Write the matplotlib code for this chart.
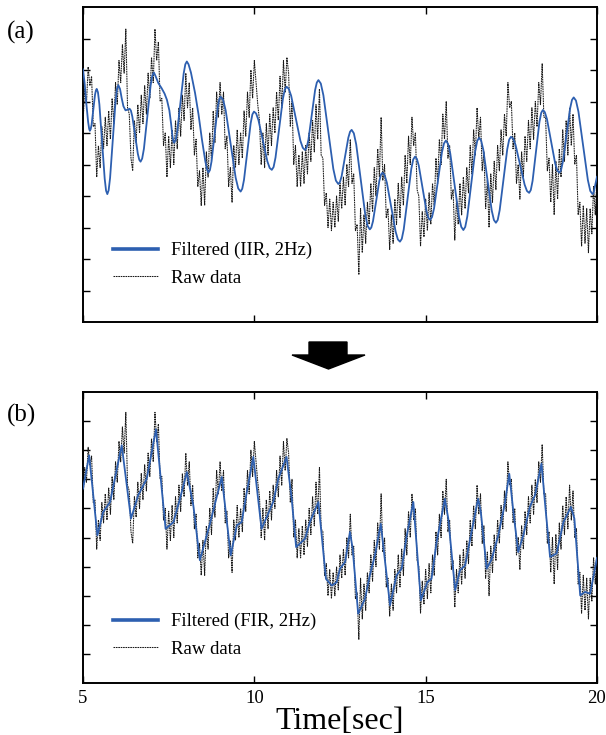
import numpy as np
import matplotlib
matplotlib.use("Agg")
import matplotlib.pyplot as plt
from matplotlib.lines import Line2D
from matplotlib.patches import Polygon

plt.rcParams['font.family'] = ['Liberation Serif', 'DejaVu Serif']

# ---------------- data ----------------
raw_y = [
    6.3, 7.4, 6.9, 8.1, 7.5, 7.8, 6.2, 6.3, 4.6, 5.6, 4.9, 6.2, 5.5, 6.5, 5.6, 6.7, 5.8, 7.1, 6.3, 7.6,
    6.9, 8.3, 7.6, 8.8, 7.9, 9.3, 6.8, 6.6, 5.2, 4.8, 6.4, 5.7, 6.9, 6.0, 7.2, 6.3, 7.5, 6.6, 7.9, 7.1,
    8.4, 7.6, 9.3, 8.3, 8.9, 7.0, 7.1, 5.6, 6.0, 4.6, 5.9, 4.9, 6.1, 5.0, 6.4, 5.5, 6.8, 5.9, 7.2, 6.4,
    7.9, 6.8, 7.6, 6.1, 6.8, 5.3, 5.8, 4.3, 4.8, 3.7, 4.9, 3.7, 5.4, 4.6, 6.0, 5.1, 6.7, 5.7, 7.3, 6.5,
    7.6, 6.6, 7.3, 5.5, 5.9, 4.3, 4.9, 3.8, 5.6, 4.9, 6.1, 5.0, 6.0, 5.2, 6.7, 5.9, 7.3, 6.5, 8.0, 7.1,
    8.3, 7.6, 6.9, 6.4, 5.0, 6.0, 4.9, 6.3, 5.3, 6.6, 5.6, 6.8, 6.0, 7.3, 6.4, 7.8, 6.8, 8.3, 7.3, 8.4,
    7.9, 6.2, 7.0, 5.0, 5.6, 4.3, 5.3, 4.3, 5.4, 4.4, 5.6, 4.7, 6.0, 5.1, 6.4, 5.4, 6.9, 5.8, 7.4, 5.3,
    5.2, 3.7, 4.1, 3.0, 3.9, 2.9, 3.8, 3.0, 4.0, 3.2, 4.4, 3.6, 4.6, 3.7, 5.0, 4.3, 5.8, 4.4, 4.7, 2.9,
    3.1, 1.5, 3.6, 2.2, 3.4, 2.5, 3.8, 3.1, 4.4, 3.5, 4.9, 4.0, 5.5, 4.6, 6.5, 4.5, 5.0, 3.3, 3.6, 2.3,
    3.4, 2.5, 3.9, 3.1, 4.4, 3.3, 4.6, 3.7, 5.3, 4.4, 5.9, 5.0, 6.5, 5.6, 6.0, 4.2, 4.0, 2.4, 3.5, 2.7,
    3.9, 2.9, 4.1, 3.1, 4.4, 3.7, 5.2, 4.4, 5.8, 5.0, 6.6, 5.8, 7.0, 5.2, 5.6, 3.9, 4.2, 2.6, 3.9, 3.1,
    4.4, 3.4, 4.6, 3.6, 4.9, 4.1, 5.6, 4.7, 6.1, 5.3, 6.8, 5.8, 6.5, 4.8, 5.4, 3.6, 4.5, 3.0, 4.7, 3.8,
    5.1, 4.2, 5.6, 4.8, 6.1, 5.3, 6.6, 5.9, 7.6, 6.8, 7.0, 5.5, 6.0, 4.4, 5.0, 3.9, 5.4, 4.6, 5.9, 5.1,
    6.4, 5.5, 6.8, 5.8, 7.0, 6.2, 7.6, 6.9, 8.2, 6.5, 6.5, 4.8, 5.2, 3.8, 5.0, 3.4, 5.1, 3.9, 5.5, 4.6,
    6.1, 5.1, 6.4, 5.3, 6.8, 5.6, 6.6, 5.0, 5.3, 3.4, 3.8, 2.4, 3.7, 2.5, 3.6, 2.2, 3.6, 2.8, 4.3, 3.4, 4.6,
]
raw_t = np.linspace(5.0, 20.0, len(raw_y))

iir_t = [5.00, 5.05, 5.10, 5.15, 5.18, 5.20,
         5.224, 5.25, 5.30, 5.35, 5.376, 5.40,
         5.437, 5.478, 5.555, 5.633, 5.673, 5.71,
         5.748, 5.79, 5.87, 5.95, 5.992, 6.03,
         6.08, 6.13, 6.18, 6.24, 6.30, 6.36,
         6.398, 6.44, 6.52, 6.60, 6.642, 6.68,
         6.727, 6.778, 6.875, 6.973, 7.023, 7.07,
         7.12, 7.20, 7.29, 7.38, 7.45, 7.52, 7.57, 7.61, 7.64, 7.66,
         7.704, 7.753, 7.845, 7.938, 7.986, 8.03,
         8.08, 8.15, 8.27, 8.37, 8.47, 8.57, 8.62, 8.66,
         8.703, 8.75, 8.84, 8.93, 8.977, 9.02,
         9.09, 9.165, 9.31, 9.455, 9.53, 9.60,
         9.647, 9.698, 9.795, 9.893, 9.943, 9.99,
         10.052, 10.12, 10.25, 10.38, 10.448, 10.51,
         10.562, 10.618, 10.725, 10.833, 10.888, 10.94,
         11.005, 11.075, 11.21, 11.345, 11.415, 11.48,
         11.527, 11.578, 11.675, 11.773, 11.823, 11.87,
         11.94, 12.015, 12.16, 12.305, 12.38, 12.45,
         12.497, 12.548, 12.645, 12.743, 12.793, 12.84,
         12.904, 12.973, 13.105, 13.238, 13.306, 13.37,
         13.414, 13.463, 13.555, 13.648, 13.696, 13.74,
         13.801, 13.868, 13.995, 14.123, 14.189, 14.25,
         14.303, 14.36, 14.47, 14.58, 14.637, 14.69,
         14.743, 14.80, 14.91, 15.02, 15.077, 15.13,
         15.185, 15.245, 15.36, 15.475, 15.535, 15.59,
         15.651, 15.718, 15.845, 15.973, 16.039, 16.10,
         16.155, 16.215, 16.33, 16.445, 16.505, 16.56,
         16.619, 16.683, 16.805, 16.928, 16.991, 17.05,
         17.103, 17.16, 17.27, 17.38, 17.437, 17.49,
         17.554, 17.623, 17.755, 17.888, 17.956, 18.02,
         18.068, 18.12, 18.22, 18.32, 18.372, 18.42,
         18.478, 18.54, 18.66, 18.78, 18.842, 18.90,
         18.95, 19.005, 19.11, 19.215, 19.27, 19.32,
         19.386, 19.458, 19.595, 19.733, 19.804, 19.87,
         19.90, 19.95, 20.00]
iir_y = [8.02, 7.55, 6.90, 6.35, 6.13, 6.07,
         6.12, 6.26, 6.74, 7.21, 7.35, 7.40,
         7.29, 6.91, 5.73, 4.55, 4.17, 4.06,
         4.18, 4.57, 5.79, 7.01, 7.40, 7.52,
         7.40, 7.10, 6.85, 6.72, 6.74, 6.77,
         6.71, 6.52, 5.93, 5.34, 5.15, 5.09,
         5.19, 5.50, 6.50, 7.51, 7.82, 7.92,
         7.80, 7.58, 7.43, 7.25, 7.05, 6.72, 6.30, 5.90, 5.73, 5.69,
         5.78, 6.07, 6.98, 7.89, 8.18, 8.27,
         8.18, 7.92, 7.27, 6.60, 5.80, 5.10, 4.85, 4.74,
         4.82, 5.09, 5.95, 6.80, 7.07, 7.15,
         7.05, 6.71, 5.65, 4.58, 4.24, 4.14,
         4.23, 4.51, 5.41, 6.31, 6.59, 6.68,
         6.62, 6.41, 5.76, 5.10, 4.89, 4.83,
         4.92, 5.22, 6.15, 7.08, 7.38, 7.47,
         7.40, 7.18, 6.47, 5.75, 5.53, 5.46,
         5.54, 5.78, 6.57, 7.36, 7.60, 7.68,
         7.57, 7.20, 6.03, 4.86, 4.49, 4.38,
         4.44, 4.63, 5.24, 5.85, 6.04, 6.10,
         5.99, 5.64, 4.52, 3.40, 3.05, 2.94,
         3.00, 3.20, 3.84, 4.48, 4.68, 4.74,
         4.67, 4.42, 3.65, 2.87, 2.62, 2.55,
         2.64, 2.94, 3.90, 4.86, 5.16, 5.25,
         5.18, 4.96, 4.25, 3.54, 3.31, 3.24,
         3.33, 3.61, 4.50, 5.39, 5.67, 5.76,
         5.66, 5.35, 4.34, 3.33, 3.02, 2.92,
         3.02, 3.35, 4.39, 5.42, 5.75, 5.85,
         5.76, 5.46, 4.50, 3.54, 3.24, 3.15,
         3.24, 3.55, 4.52, 5.48, 5.79, 5.88,
         5.82, 5.62, 4.99, 4.36, 4.16, 4.10,
         4.19, 4.48, 5.42, 6.35, 6.64, 6.73,
         6.66, 6.44, 5.74, 5.03, 4.81, 4.74,
         4.82, 5.09, 5.94, 6.78, 7.05, 7.13,
         7.03, 6.68, 5.60, 4.51, 4.16, 4.06,
         4.10, 4.35, 4.61]

fir_t = [5.00, 5.18, 5.42, 5.59, 5.79, 6.13, 6.40, 6.61, 6.86, 7.13, 7.41, 7.64, 7.83, 8.03,
         8.22, 8.41, 8.71, 9.05, 9.31, 9.49, 9.63, 9.78, 9.97, 10.21, 10.36, 10.55, 10.70,
         10.94, 11.09, 11.22, 11.48, 11.62, 11.87, 12.09, 12.26, 12.40, 12.50, 12.65, 12.79,
         12.87, 13.03, 13.23, 13.37, 13.52, 13.69, 13.96, 14.15, 14.30, 14.45, 14.64, 14.86,
         15.05, 15.17, 15.32, 15.56, 15.66, 15.86, 16.00, 16.15, 16.34, 16.53, 16.61, 16.78,
         16.93, 17.12, 17.30, 17.44, 17.56, 17.70, 17.85, 18.04, 18.19, 18.38, 18.48, 18.63,
         18.82, 19.02, 19.24, 19.34, 19.51, 19.65, 19.80, 20.00]
fir_y = [6.68, 7.82, 5.07, 5.88, 6.22, 8.17, 5.65, 6.45, 7.02, 8.72, 5.30, 5.53, 6.33, 7.25,
         6.10, 4.22, 5.50, 7.08, 4.39, 5.42, 5.53, 6.56, 7.77, 5.30, 5.70, 6.22, 7.02,
         7.77, 6.33, 4.67, 4.96, 5.53, 6.22, 3.58, 3.35, 3.46, 3.93, 4.16, 5.19,
         4.62, 2.38, 2.90, 3.70, 4.39, 5.47, 2.67, 3.70, 3.93, 5.08, 6.22, 2.84,
         3.47, 3.58, 4.85, 6.33, 5.65, 3.19, 3.87, 4.04, 5.20, 6.33, 5.88, 3.93,
         4.27, 5.08, 6.10, 7.19, 5.88, 4.50, 5.08, 6.05, 6.45, 7.54, 6.22, 4.33,
         4.45, 5.53, 6.05, 5.65, 3.01, 3.13, 3.07, 4.30]

x_ticks = [5, 10, 15, 20]
y_ticks = [1, 2, 3, 4, 5, 6, 7, 8, 9]
labels_a = ["Filtered (IIR, 2Hz)", "Raw data"]
labels_b = ["Filtered (FIR, 2Hz)", "Raw data"]

BLUE = '#2d5fb0'
W, H = 606, 735

fig = plt.figure(figsize=(W / 100, H / 100), dpi=100)

def frac(px_l, px_t, px_r, px_b):
    return [px_l / W, 1 - px_b / H, (px_r - px_l) / W, (px_b - px_t) / H]

ax_a = fig.add_axes(frac(83, 7, 597, 322))
ax_b = fig.add_axes(frac(83, 392, 597, 683))

raw_style = dict(color='#1a1a1a', lw=0.75, linestyle=(0, (1.6, 0.7)))

for ax, ft, fy, labels, anchor in [(ax_a, iir_t, iir_y, labels_a, 0.254),
                                   (ax_b, fir_t, fir_y, labels_b, 0.241)]:
    ax.plot(raw_t, raw_y, **raw_style, zorder=2)
    ax.plot(ft, fy, color=BLUE, lw=1.3, zorder=3, solid_joinstyle='round')
    ax.set_xlim(5, 20)
    ax.set_ylim(0, 10)
    ax.set_xticks(x_ticks)
    ax.set_yticks(y_ticks)
    ax.set_yticklabels([])
    ax.tick_params(direction='in', length=5, width=1.0, top=True, right=True,
                   labelsize=13.5, pad=5, colors='black')
    for s in ax.spines.values():
        s.set_linewidth(1.4)
    handles = [Line2D([], [], color=BLUE, lw=2.6),
               Line2D([], [], color='#1a1a1a', lw=0.75, linestyle=(0, (1.6, 0.7)))]
    ax.legend(handles, labels, loc='upper left', frameon=False, fontsize=13.5,
              handlelength=2.4, handletextpad=0.7, labelspacing=0.56,
              borderpad=0, borderaxespad=0,
              bbox_to_anchor=(0.058, anchor))

ax_a.set_xticklabels([])
ax_b.set_xticklabels([str(v) for v in x_ticks])
ax_b.set_xlabel("Time[sec]", fontsize=23, labelpad=0)

fig.text(7 / W, 1 - 32 / H, "(a)", fontsize=18, va='center', ha='left')
fig.text(7 / W, 1 - 415 / H, "(b)", fontsize=18, va='center', ha='left')

# block arrow between panels
arrow_px = [(309, 342), (347, 342), (347, 355), (365, 355), (328.5, 369),
            (292, 355), (309, 355)]
arrow = Polygon([(x / W, 1 - y / H) for x, y in arrow_px], closed=True,
                transform=fig.transFigure, facecolor='black', edgecolor='black')
fig.patches.append(arrow)

fig.savefig("out.png", dpi=100)
